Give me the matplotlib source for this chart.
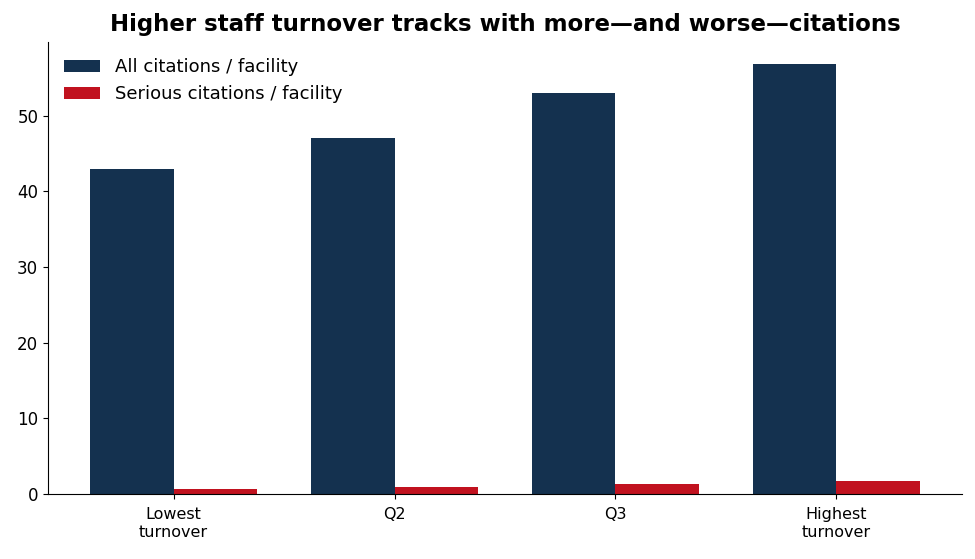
import matplotlib
matplotlib.use("Agg")
import matplotlib.pyplot as plt
import numpy as np

# turnover quartiles
categories = ["Lowest\nturnover", "Q2", "Q3", "Highest\nturnover"]
all_citations = [43.0, 47.1, 53.0, 56.9]
serious_citations = [0.7, 0.9, 1.3, 1.7]

NAVY = "#14314f"
RED = "#c1121f"

fig = plt.figure(figsize=(9.75, 5.59), dpi=100)
fig.patch.set_facecolor("white")
ax = fig.add_axes([48 / 975, 1 - 494 / 559, (962 - 48) / 975, (494 - 42) / 559])

x = np.arange(len(categories))
width = 0.38
ax.bar(x - width / 2, all_citations, width=width, color=NAVY, label="All citations / facility")
ax.bar(x + width / 2, serious_citations, width=width, color=RED, label="Serious citations / facility")

ax.set_xticks(x)
ax.set_xticklabels(categories, fontsize=11.5)
ax.tick_params(axis="x", pad=6)
ax.tick_params(axis="y", labelsize=12)
ax.set_yticks([0, 10, 20, 30, 40, 50])
for spine in ("top", "right"):
    ax.spines[spine].set_visible(False)

ax.legend(frameon=False, fontsize=13, loc="upper left", handlelength=2.0)
ax.set_title("Higher staff turnover tracks with more\u2014and worse\u2014citations",
             fontsize=16.5, fontweight="bold", pad=8)

fig.savefig("out.png", dpi=100, facecolor="white")
